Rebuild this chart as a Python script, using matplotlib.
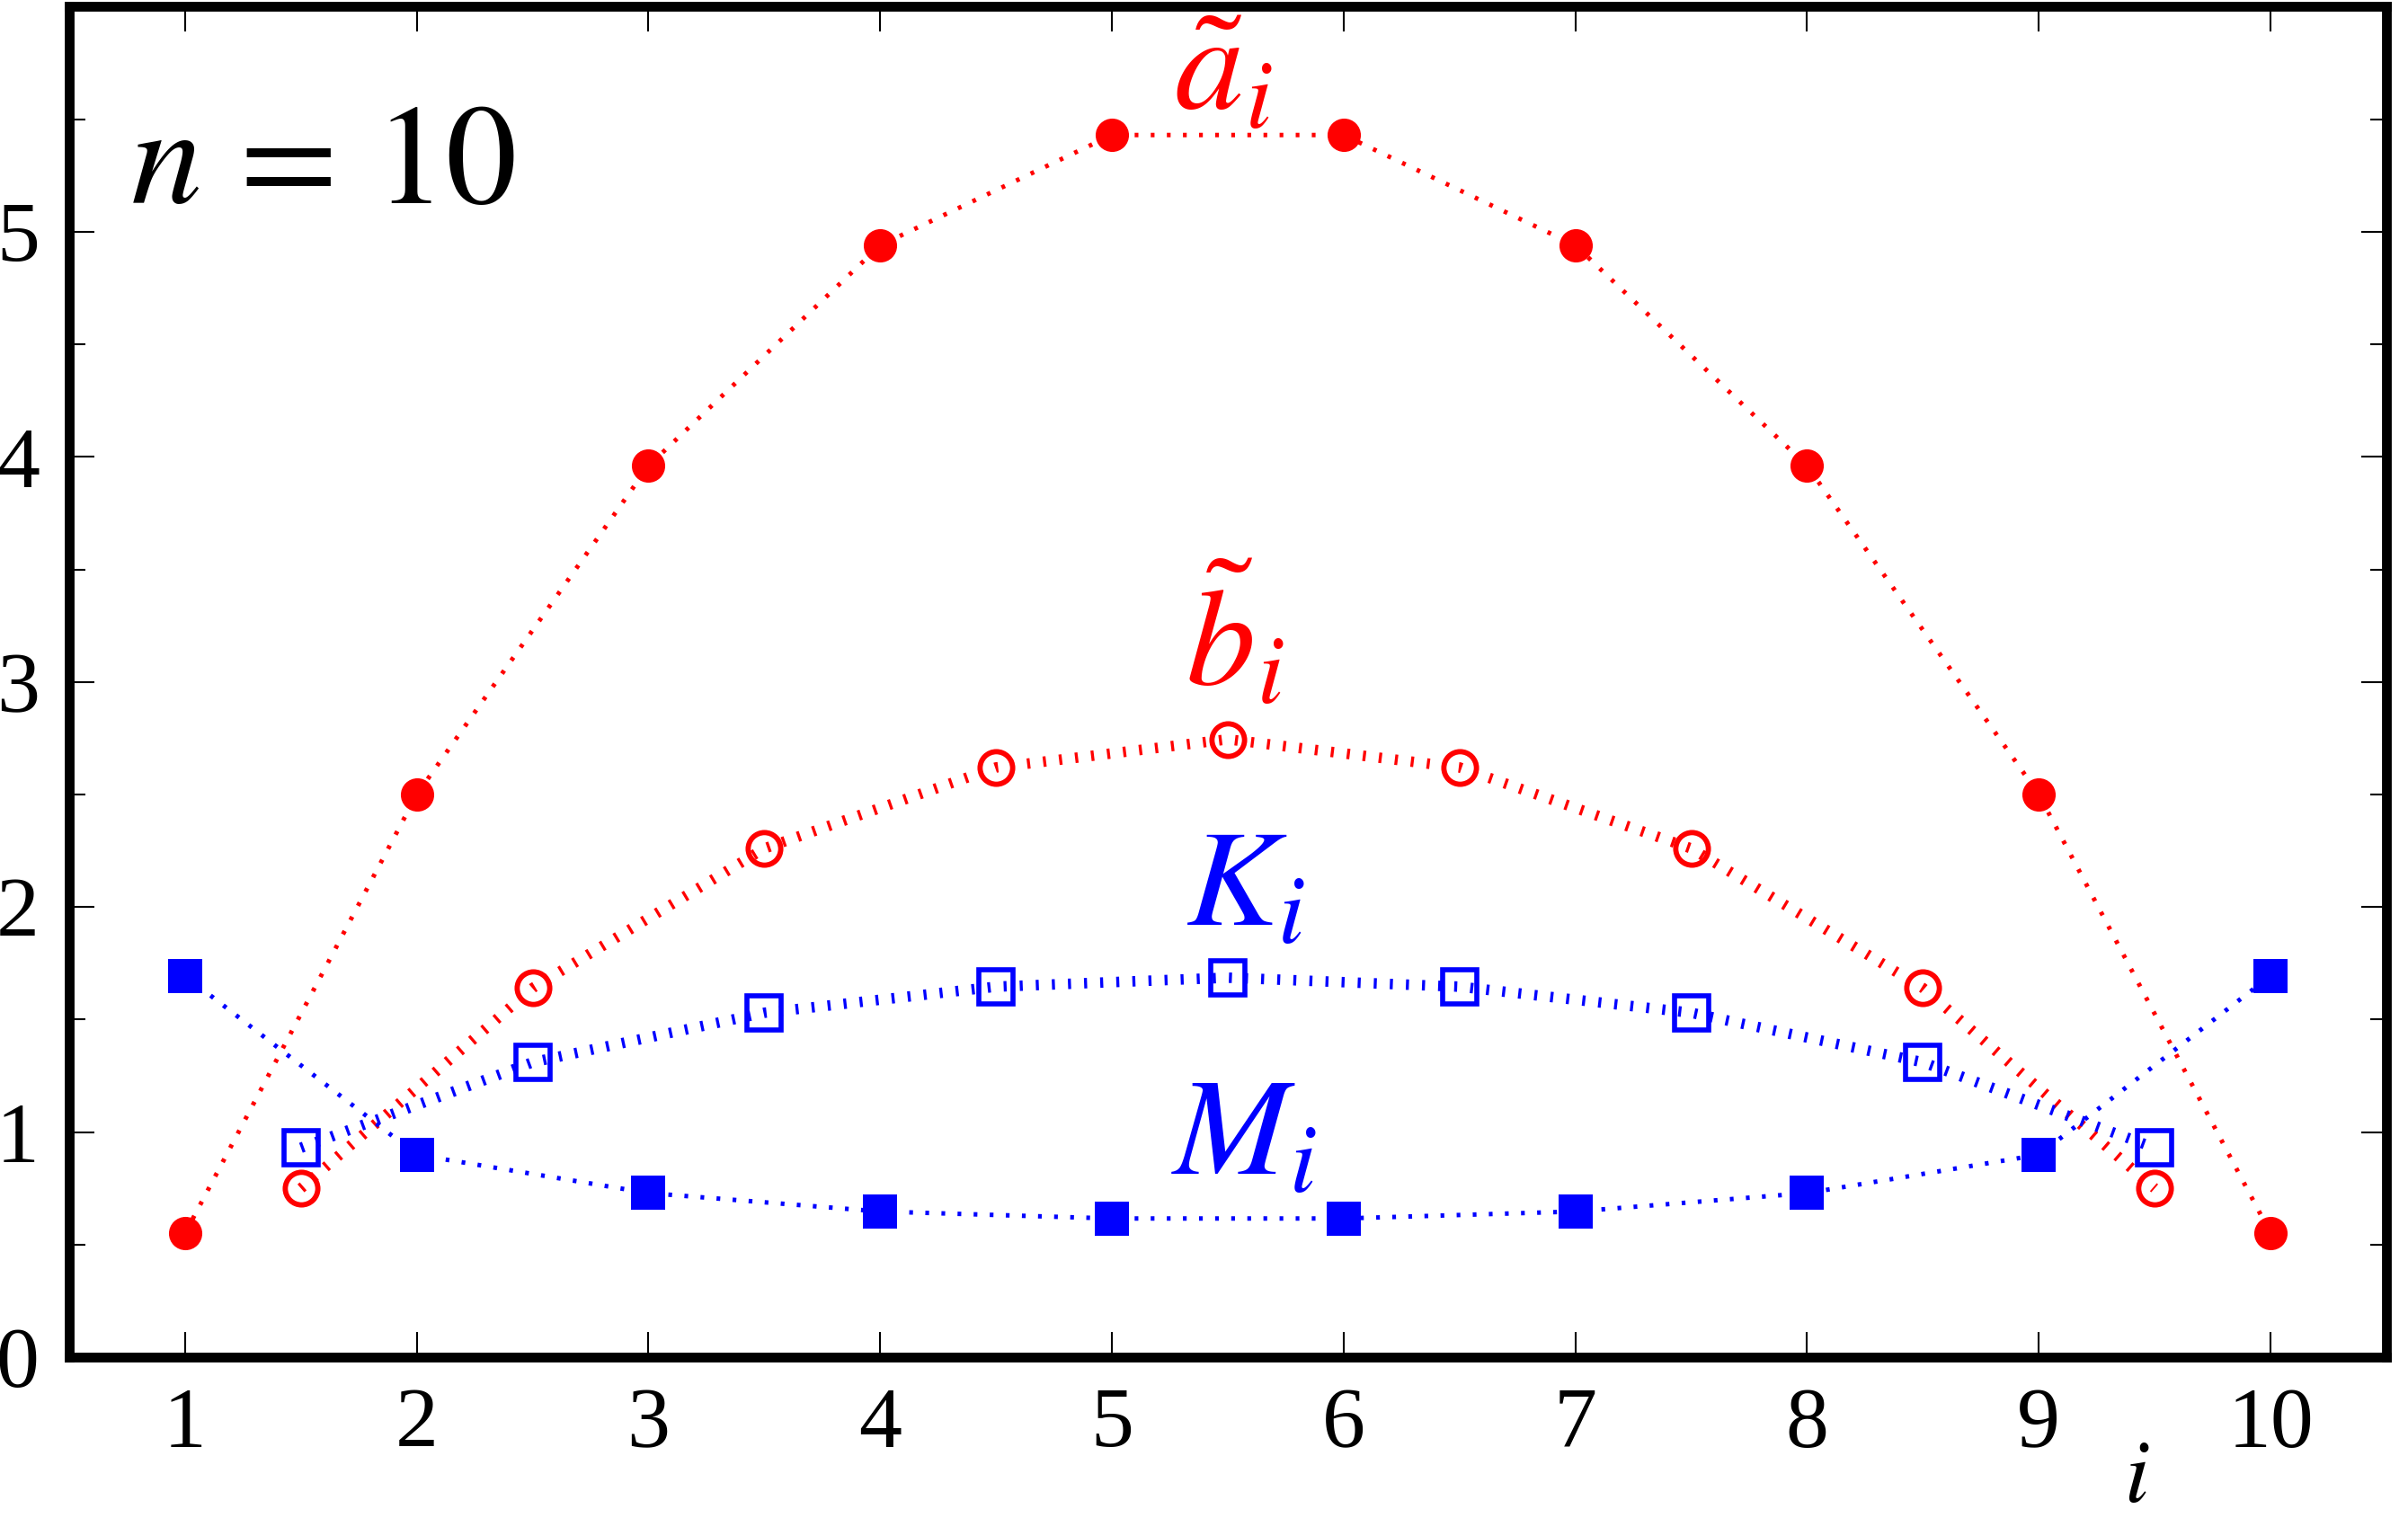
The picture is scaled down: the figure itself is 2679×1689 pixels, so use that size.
import matplotlib
matplotlib.use("Agg")
import matplotlib.pyplot as plt
from matplotlib.ticker import MultipleLocator
from matplotlib.transforms import blended_transform_factory

plt.rcParams["font.family"] = ["Liberation Serif", "DejaVu Serif"]
plt.rcParams["mathtext.fontset"] = "stix"

# integer nodes i = 1..10 and midpoints i + 1/2
i_int = [1, 2, 3, 4, 5, 6, 7, 8, 9, 10]
i_half = [1.5, 2.5, 3.5, 4.5, 5.5, 6.5, 7.5, 8.5, 9.5]

a_tilde = [0.55, 2.50, 3.96, 4.94, 5.43, 5.43, 4.94, 3.96, 2.50, 0.55]
b_tilde = [0.75, 1.64, 2.26, 2.62, 2.745, 2.62, 2.26, 1.64, 0.75]
K = [0.93, 1.31, 1.53, 1.646, 1.686, 1.646, 1.53, 1.31, 0.93]
M = [1.694, 0.899, 0.729, 0.647, 0.616, 0.616, 0.647, 0.729, 0.899, 1.694]

RED, BLUE = "#ff0000", "#0000ff"

fig = plt.figure(figsize=(2679 / 300, 1689 / 300), dpi=300)
ax = fig.add_axes([0.02874, 0.10598, 0.96230, 0.88958])

thin, thick = 1.2, 2.8
thin_ls = (0, (1.0 / thin, 3.3 / thin))
thick_ls = (0, (0.8 / thick, 3.5 / thick))

ax.plot(i_int, a_tilde, color=RED, lw=thin, ls=thin_ls, dash_capstyle="butt",
        marker="o", ms=8.9, mfc=RED, mec=RED, mew=0, zorder=3)
ax.plot(i_half, b_tilde, color=RED, lw=thick, ls=thick_ls, dash_capstyle="butt",
        marker="o", ms=8.7, mfc="none", mec=RED, mew=1.4, zorder=3)
ax.plot(i_half, K, color=BLUE, lw=thick, ls=thick_ls, dash_capstyle="butt",
        marker="s", ms=9.0, mfc="none", mec=BLUE, mew=1.35, zorder=3)
ax.plot(i_int, M, color=BLUE, lw=thin, ls=thin_ls, dash_capstyle="butt",
        marker="s", ms=8.9, mfc=BLUE, mec=BLUE, mew=0, zorder=3)

lab = dict(fontsize=37, ha="center", va="baseline")
ax.text(5.48, 5.545, r"$\tilde{a}_i$", color=RED, **lab)
ax.text(5.53, 2.988, r"$\tilde{b}_i$", color=RED, **lab)
ax.text(5.575, 1.918, r"$K_i$", color=BLUE, **lab)
ax.text(5.57, 0.811, r"$M_i$", color=BLUE, **lab)

ax.text(0.0264, 0.8543, r"$n\,=\,10$", transform=ax.transAxes,
        fontsize=38, ha="left", va="baseline")

tr = blended_transform_factory(ax.transData, ax.transAxes)
ax.text(9.424, -0.107, r"$i$", transform=tr, fontsize=24,
        ha="center", va="baseline")

ax.set_xlim(0.5, 10.5)
ax.set_ylim(0, 6)
ax.set_xticks(i_int)
ax.set_yticks([0, 1, 2, 3, 4, 5])
ax.yaxis.set_minor_locator(MultipleLocator(0.5))
ax.tick_params(which="both", direction="in", top=True, right=True,
               labelsize=23, width=0.5, pad=8)
ax.tick_params(which="major", length=6.8)
ax.tick_params(which="minor", length=4.3)
ax.tick_params(axis="x", which="minor", top=False, bottom=False)

for s in ax.spines.values():
    s.set_linewidth(2.6)
    s.set_zorder(5)

fig.savefig("out.png", dpi=300)
